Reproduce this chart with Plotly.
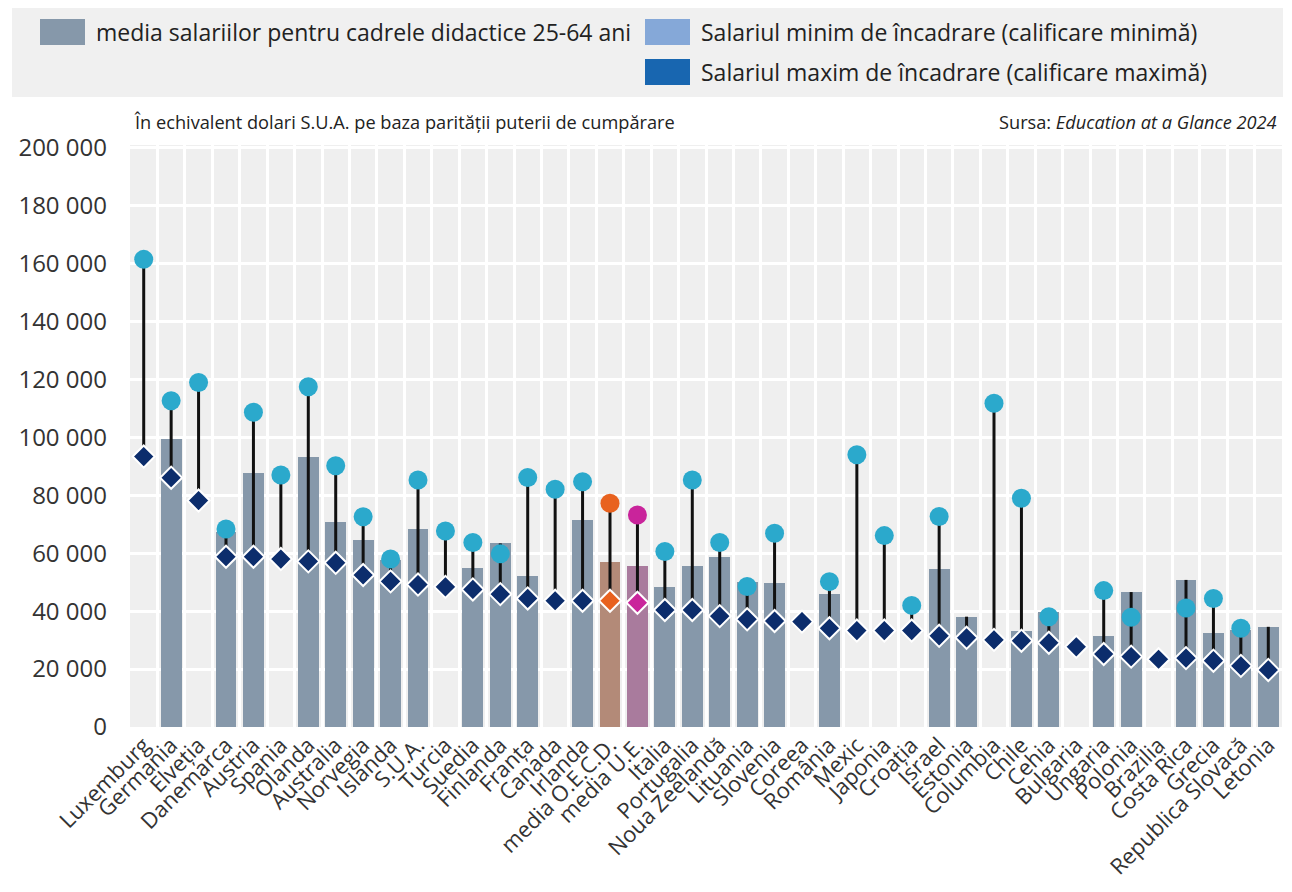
import plotly.graph_objects as go

# ---------------- data ----------------
countries = ["Luxemburg", "Germania", "Elveția", "Danemarca", "Austria", "Spania", "Olanda",
             "Australia", "Norvegia", "Islanda", "S.U.A.", "Turcia", "Suedia", "Finlanda",
             "Franța", "Canada", "Irlanda", "media O.E.C.D.", "media U.E.", "Italia",
             "Portugalia", "Noua Zeelandă", "Lituania", "Slovenia", "Coreea", "România",
             "Mexic", "Japonia", "Croația", "Israel", "Estonia", "Columbia", "Chile", "Cehia",
             "Bulgaria", "Ungaria", "Polonia", "Brazilia", "Costa Rica", "Grecia",
             "Republica Slovacă", "Letonia"]

avg_salary = [None, 99500, None, 67500, 87600, None, 93400,
              70900, 64600, 57700, 68400, None, 54800, 63400,
              52200, None, 71500, 57100, 55600, 48500,
              55600, 58800, 50000, 49800, None, 46100,
              None, None, None, 54400, 38100, None, 33300, 39800,
              None, 31400, 46600, None, 50800, 32300,
              33500, 34600]

max_salary = [161500, 112700, 119000, 68400, 108700, 87000, 117500,
              90200, 72600, 58000, 85300, 67700, 63700, 59800,
              86200, 82100, 84700, 77300, 73200, 60600,
              85300, 63700, 48500, 66900, None, 50200,
              94000, 66100, 42000, 72700, None, 111800, 79000, 38100,
              None, 47100, 37900, None, 41100, 44400,
              34100, None]

min_salary = [93400, 86100, 78200, 58800, 58800, 58000, 57200,
              56700, 52500, 50300, 49200, 48400, 47500, 45900,
              44400, 43600, 43600, 43600, 42900, 40400,
              40400, 38300, 37200, 36600, 36400, 34100,
              33300, 33300, 33300, 31500, 30800, 30100, 29800, 29100,
              27700, 25200, 24300, 23400, 23800, 22900,
              21100, 19700]

y_ticks = [0, 20000, 40000, 60000, 80000, 100000, 120000, 140000, 160000, 180000, 200000]

legend_labels = ["media salariilor pentru cadrele didactice 25-64 ani",
                 "Salariul minim de încadrare (calificare minimă)",
                 "Salariul maxim de încadrare (calificare maximă)"]
subtitle = "În echivalent dolari S.U.A. pe baza parității puterii de cumpărare"
source = "Sursa: <i>Education at a Glance 2024</i>"

# ---------------- styles ----------------
BAR = "#8698aa"
CIRCLE = "#2ba9cc"
DIAMOND = "#0c2d6c"
highlight = {"media O.E.C.D.": ("#e8621f", "#b38a78"),
             "media U.E.": ("#c9249b", "#a97b9d")}
LEG_COLORS = ["#8698aa", "#85a8d8", "#1866b0"]
TXT = "#222222"

x = list(range(len(countries)))
bar_colors = [highlight[c][1] if c in highlight else BAR for c in countries]
circ_colors = [highlight[c][0] if c in highlight else CIRCLE for c in countries]
dia_colors = [highlight[c][0] if c in highlight else DIAMOND for c in countries]

# range lines: from min to the higher of max / average
lx, ly = [], []
for i, (lo, hi, av) in enumerate(zip(min_salary, max_salary, avg_salary)):
    tops = [v for v in (hi, av) if v is not None]
    if lo is None or not tops:
        continue
    top = max(tops)
    if top <= lo:
        continue
    lx += [i, i, None]
    ly += [lo, top, None]

fig = go.Figure()
fig.add_trace(go.Bar(x=x, y=avg_salary, marker=dict(color=bar_colors, line=dict(width=0)),
                     width=0.76, name=legend_labels[0], showlegend=False))
fig.add_trace(go.Scatter(x=lx, y=ly, mode="lines", line=dict(color="#111111", width=3),
                         showlegend=False, hoverinfo="skip"))
fig.add_trace(go.Scatter(x=x, y=max_salary, mode="markers", name=legend_labels[2],
                         marker=dict(symbol="circle", size=19, color=circ_colors,
                                     line=dict(width=0)), showlegend=False))
fig.add_trace(go.Scatter(x=x, y=min_salary, mode="markers", name=legend_labels[1],
                         marker=dict(symbol="diamond", size=17, color=dia_colors,
                                     line=dict(color="white", width=2)), showlegend=False))

# ---------------- layout geometry (page pixels; page body adds 8px offset) ----------------
OFF = 8
W, H = 1284, 884
PL, PR, PT, PB = 130, 1282, 145, 727      # plot area in page pixels
ML, MR, MT, MB = PL - OFF, W - (PR - OFF), PT - OFF, H - (PB - OFF)
PW, PH = PR - PL, PB - PT


def px(v):
    return (v - PL) / PW


def py(v):
    return (PB - v) / PH


shapes = [dict(type="rect", xref="paper", yref="paper", x0=px(12), x1=px(1283),
               y0=py(97), y1=py(7), fillcolor="#f0f0f0", line=dict(width=0), layer="below")]
# legend swatches
sw = [(40, 19), (645, 19), (645, 59)]
for (sx, sy), col in zip(sw, LEG_COLORS):
    shapes.append(dict(type="rect", xref="paper", yref="paper", x0=px(sx), x1=px(sx + 45),
                       y0=py(sy + 26), y1=py(sy), fillcolor=col, line=dict(width=0)))

LEGFONT = dict(family="Open Sans, sans-serif", size=23, color=TXT)
annotations = []
for (sx, sy), lab in zip(sw, legend_labels):
    annotations.append(dict(text=lab, xref="paper", yref="paper", x=px(sx + 54), y=py(sy + 13),
                            xanchor="left", yanchor="middle", showarrow=False, font=LEGFONT))
annotations.append(dict(text=subtitle, xref="paper", yref="paper", x=px(132), y=py(122),
                        xanchor="left", yanchor="middle", showarrow=False,
                        font=dict(family="Open Sans, sans-serif", size=18.2, color=TXT)))
annotations.append(dict(text=source, xref="paper", yref="paper", x=px(1279), y=py(122),
                        xanchor="right", yanchor="middle", showarrow=False,
                        font=dict(family="Open Sans, sans-serif", size=18.2, color=TXT)))

fig.update_layout(
    width=W, height=H,
    margin=dict(l=ML, r=MR, t=MT, b=MB, pad=0),
    paper_bgcolor="white", plot_bgcolor="#efefef",
    separators=", ",
    showlegend=False,
    shapes=shapes, annotations=annotations,
    bargap=0,
    font=dict(family="Open Sans, sans-serif", color="#333333"),
)
fig.update_xaxes(range=[-0.5, len(countries) - 0.5], tickmode="array", tickvals=x,
                 ticktext=countries, tickangle=-45, showgrid=False, zeroline=False,
                 tickfont=dict(size=22, color="#333333", family="Open Sans, sans-serif"),
                 minor=dict(tick0=0.5, dtick=1, showgrid=True, gridcolor="white", gridwidth=3),
                 fixedrange=True)
fig.update_yaxes(range=[0, 201000], tickmode="array", tickvals=y_ticks, tickformat=",d",
                 showgrid=True, gridcolor="white", gridwidth=3, zeroline=False,
                 tickfont=dict(size=24, color="#333333", family="Open Sans, sans-serif"),
                 ticklabelstandoff=22, fixedrange=True)

fig.write_html("out.html", config={"displayModeBar": False})
